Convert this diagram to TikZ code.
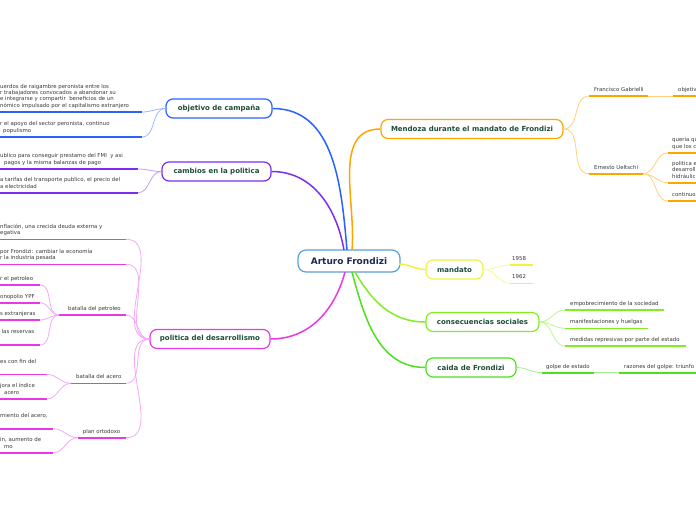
\documentclass[tikz,border=0pt]{standalone}
\usepackage{fontspec}
\setmainfont{DejaVu Sans}
\definecolor{cBlue}{HTML}{2962FF}
\definecolor{cBlueL}{HTML}{9DB8FF}
\definecolor{cPur}{HTML}{7C2EF0}
\definecolor{cPurL}{HTML}{BFA0F7}
\definecolor{cMag}{HTML}{E838E8}
\definecolor{cMagL}{HTML}{F5A8F5}
\definecolor{cOr}{HTML}{FFA500}
\definecolor{cOrL}{HTML}{FFD080}
\definecolor{cYel}{HTML}{F2F240}
\definecolor{cYelL}{HTML}{F8F8A0}
\definecolor{cLgr}{HTML}{80EE20}
\definecolor{cLgrL}{HTML}{C0F590}
\definecolor{cGrn}{HTML}{4CE020}
\definecolor{cGrnL}{HTML}{A5EE90}
\definecolor{cCen}{HTML}{5AA0D8}
\definecolor{tTopic}{HTML}{1E4D3A}
\definecolor{tCen}{HTML}{1B2A4E}
\definecolor{tLeaf}{HTML}{3A3A3A}
\tikzset{
  topic/.style={draw, rounded corners=7pt, fill=white, line width=1.2pt, minimum height=19pt, inner sep=0pt, font=\fontsize{7}{8}\selectfont\bfseries, text=tTopic},
  centerbox/.style={draw=cCen, rounded corners=8pt, fill=white, line width=1.2pt, minimum height=22pt, minimum width=102pt, inner sep=0pt, font=\fontsize{9}{10}\selectfont\bfseries, text=tCen},
  leaftext/.style={font=\fontsize{5.4}{6.4}\selectfont, text=tLeaf, inner sep=0pt, align=left, text depth=0pt},
  uline/.style={line width=1.6pt},
  subc/.style={line width=0.8pt},
  mainc/.style={line width=1.5pt}
}
% #1 name, #2 colour, #3 x1, #4 x2, #5 y, #6 text x, #7 text
\newcommand{\mmleaf}[7]{%
  \coordinate (#1-l) at (#3,#5);
  \coordinate (#1-r) at (#4,#5);
  \draw[#2, uline] (#1-l) -- (#1-r);
  \node[leaftext, anchor=south west] (#1) at (#6,#5-4.5) {#7};
}
\begin{document}
\begin{tikzpicture}[x=1pt,y=-1pt]
\clip (0,0) rectangle (696,520);
\fill[white] (0,0) rectangle (696,520);

% central
\node[centerbox] (root) at (349,261) {Arturo Frondizi};

% topics
\node[topic, draw=cBlue, minimum width=106pt] (obj) at (219,108.5) {objetivo de campaña};
\node[topic, draw=cPur, minimum width=109pt] (camb) at (216.5,171.5) {cambios en la politica};
\node[topic, draw=cMag, minimum width=120pt] (des) at (210,339) {politica del desarrollismo};
\node[topic, draw=cOr, minimum width=182pt] (mend) at (472,129) {Mendoza durante el mandato de Frondizi};
\node[topic, draw=cYel, minimum width=57pt] (mand) at (454.5,269.5) {mandato};
\node[topic, draw=cLgr, minimum width=113pt] (cons) at (482.5,322) {consecuencias sociales};
\node[topic, draw=cGrn, minimum width=90pt] (caida) at (471,367.5) {caida de Frondizi};

% main connectors
\coordinate (rt1) at (347,250);
\coordinate (rt2) at (344,250);
\coordinate (rt3) at (352,250);
\coordinate (rb1) at (345,272);
\coordinate (rb2) at (352,272);
\coordinate (rb3) at (355,272);
\coordinate (re) at (399,264);
\draw[cBlue, mainc] (rt1) to[out=95,in=0] (obj.east);
\draw[cPur, mainc] (rt2) to[out=100,in=0] (camb.east);
\draw[cOr, mainc] (rt3) to[out=85,in=180] (mend.west);
\draw[cMag, mainc] (rb1) to[out=-105,in=0] (des.east);
\draw[cYel, mainc] (re) to[out=0,in=180] (mand.west);
\draw[cLgr, mainc] (rb3) to[out=-60,in=180] (cons.west);
\draw[cGrn, mainc] (rb2) to[out=-75,in=180] (caida.west);

% objetivo de campaña
\mmleaf{o1}{cBlue}{0}{142}{112}{0}{uerdos de raigambre peronista entre los\\r trabajadores convocados a abandonar su\\e integrarse y compartir \ beneficios de un\\nómico impulsado por el capitalismo extranjero}
\mmleaf{o2}{cBlue}{0}{142}{137}{0}{r el apoyo del sector peronista, continuo\\\hspace*{3pt}populismo}
\draw[cBlueL, subc] (o1-r) to[out=0,in=180] (obj.west);
\draw[cBlueL, subc] (o2-r) to[out=0,in=180] (obj.west);

% cambios en la politica
\mmleaf{c1}{cPur}{0}{138}{169}{0}{ublico para conseguir prestamo del FMI \ y asi\\\hspace*{4pt}pagos y la misma balanzas de pago}
\mmleaf{c2}{cPur}{0}{138}{192.7}{0}{a tarifas del transporte publico, el precio del\\a electricidad}
\draw[cPurL, subc] (c1-r) to[out=0,in=180] (camb.west);
\draw[cPurL, subc] (c2-r) to[out=0,in=180] (camb.west);

% politica del desarrollismo
\mmleaf{d1}{cMag}{0}{126}{239.3}{0}{nflación, una crecida deuda externa y\\egativa}
\mmleaf{d2}{cMag}{0}{126}{264.3}{0}{por Frondizi: cambiar la economía\\r la industria pesada}
\mmleaf{d3}{cMag}{59}{126}{315}{68}{batalla del petroleo}
\mmleaf{d4}{cMag}{71}{126}{383.3}{76}{batalla del acero}
\mmleaf{d5}{cMag}{77.7}{126}{437.7}{82.7}{plan ortodoxo}
\draw[cMagL, subc] (d1-r) to[out=0,in=180] (des.west);
\draw[cMagL, subc] (d2-r) to[out=0,in=180] (des.west);
\draw[cMagL, subc] (d3-r) to[out=0,in=180] (des.west);
\draw[cMagL, subc] (d4-r) to[out=0,in=180] (des.west);
\draw[cMagL, subc] (d5-r) to[out=0,in=180] (des.west);

\mmleaf{p1}{cMag}{0}{40}{285}{0}{r el petroleo}
\mmleaf{p2}{cMag}{0}{40}{302.7}{0}{onopolio YPF}
\mmleaf{p3}{cMag}{0}{40}{320}{0}{s extranjeras}
\mmleaf{p4}{cMag}{0}{40}{345}{0}{\hspace*{1.5pt}las reservas\\\mbox{}}
\foreach \p in {p1,p2,p3,p4}{\draw[cMagL, subc] (\p-r) to[out=0,in=180] (d3-l);}

\mmleaf{a1}{cMag}{0}{46.7}{374.3}{0}{es con fin del\\\mbox{}}
\mmleaf{a2}{cMag}{0}{46.7}{399}{0}{jora el índice\\\hspace*{4pt}acero}
\foreach \p in {a1,a2}{\draw[cMagL, subc] (\p-r) to[out=0,in=180] (d4-l);}

\mmleaf{r1}{cMag}{0}{53.3}{428.7}{0}{miento del acero,\\\mbox{}}
\mmleaf{r2}{cMag}{0}{53.3}{452.7}{0}{in, aumento de\\\hspace*{4pt}mo}
\foreach \p in {r1,r2}{\draw[cMagL, subc] (\p-r) to[out=0,in=180] (d5-l);}

% Mendoza
\mmleaf{m1}{cOr}{589}{648}{96}{594}{Francisco Gabrielli}
\mmleaf{m1a}{cOr}{673}{700}{96}{678}{objetivo}
\mmleaf{m2}{cOr}{589}{643}{173.7}{594}{Ernesto Ueltschi}
\mmleaf{u1}{cOr}{668}{700}{152.7}{672}{queria que\\que los c}
\mmleaf{u2}{cOr}{668}{700}{182.7}{672}{politica e\\desarroll\\hidráulic}
\mmleaf{u3}{cOr}{668}{700}{201}{672}{continuo}
\draw[cOrL, subc] (mend.east) to[out=0,in=180] (m1-l);
\draw[cOrL, subc] (mend.east) to[out=0,in=180] (m2-l);
\draw[cOrL, subc] (m1-r) -- (m1a-l);
\foreach \p in {u1,u2,u3}{\draw[cOrL, subc] (m2-r) to[out=0,in=180] (\p-l);}

% mandato
\mmleaf{y1}{cYel}{510}{533}{265}{512}{1958}
\mmleaf{y2}{cYel}{510}{533}{283.3}{512}{1962}
\draw[cYelL, subc] (mand.east) to[out=0,in=180] (y1-l);
\draw[cYelL, subc] (mand.east) to[out=0,in=180] (y2-l);

% consecuencias sociales
\mmleaf{s1}{cLgr}{565}{664}{310}{570}{empobrecimiento de la sociedad}
\mmleaf{s2}{cLgr}{565}{648}{328.3}{570}{manifestaciones y huelgas}
\mmleaf{s3}{cLgr}{565}{686}{346}{570}{medidas represivas por parte del estado}
\foreach \p in {s1,s2,s3}{\draw[cLgrL, subc] (cons.east) to[out=0,in=180] (\p-l);}

% caida de Frondizi
\mmleaf{g1}{cGrn}{542}{594}{372.7}{546}{golpe de estado}
\mmleaf{g2}{cGrn}{619}{700}{372.7}{624}{razones del golpe: triunfo}
\draw[cGrnL, subc] (caida.east) to[out=0,in=180] (g1-l);
\draw[cGrnL, subc] (g1-r) -- (g2-l);
\end{tikzpicture}
\end{document}
